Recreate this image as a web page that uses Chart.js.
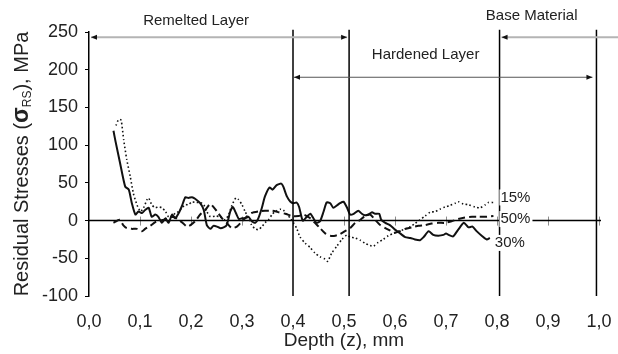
<!DOCTYPE html>
<html>
<head>
<meta charset="utf-8">
<script src="https://cdn.jsdelivr.net/npm/chart.js@4.4.1/dist/chart.umd.min.js"></script>
<style>
  html, body { margin: 0; padding: 0; background: #fff; }
  canvas { display: block; }
</style>
</head>
<body>
<canvas id="stressChart" width="618" height="354"></canvas>
<script>
// values: depth in mm, residual stress in MPa

// 15% curve (dotted)
const depth15 = [0.053, 0.058, 0.063, 0.068, 0.074, 0.081, 0.087, 0.094, 0.101, 0.107, 0.114, 0.117, 0.123, 0.130, 0.136, 0.143, 0.150, 0.156, 0.163, 0.169, 0.176, 0.182, 0.189, 0.195, 0.202, 0.208, 0.218, 0.225, 0.231, 0.238, 0.248, 0.257, 0.267, 0.274, 0.280, 0.288, 0.293, 0.300, 0.306, 0.313, 0.319, 0.326, 0.332, 0.339, 0.345, 0.352, 0.359, 0.365, 0.375, 0.381, 0.388, 0.395, 0.401, 0.407, 0.414, 0.424, 0.434, 0.443, 0.453, 0.463, 0.468, 0.476, 0.486, 0.496, 0.506, 0.512, 0.522, 0.532, 0.541, 0.551, 0.558, 0.567, 0.577, 0.587, 0.597, 0.607, 0.617, 0.630, 0.639, 0.649, 0.659, 0.669, 0.679, 0.688, 0.698, 0.708, 0.718, 0.724, 0.734, 0.744, 0.757, 0.767, 0.777, 0.783, 0.793];
const stress15 = [126, 134, 133, 107, 81, 58, 36, 21, 12, 17, 28, 30, 21, 17, 18, 17, 12, 5, 5, 10, 12, 17, 21, 21, 25, 24, 24, 21, 12, 5, 6, 5, 1, 8, 20, 30, 28, 21, 12, 3, -6, -11, -12, -8, -3, 1, 8, 12, 15, 14, 8, 3, -3, -10, -22, -30, -36, -43, -48, -51, -54, -43, -34, -25, -19, -22, -23, -26, -30, -33, -34, -29, -25, -20, -17, -14, -12, -8, -4, 1, 6, 11, 12, 15, 18, 20, 23, 25, 22, 21, 18, 17, 21, 24, 24];

// 50% curve (dashed)
const depth50 = [0.048, 0.060, 0.067, 0.074, 0.084, 0.094, 0.104, 0.110, 0.120, 0.130, 0.140, 0.150, 0.159, 0.169, 0.178, 0.185, 0.192, 0.199, 0.208, 0.218, 0.228, 0.238, 0.251, 0.261, 0.270, 0.280, 0.290, 0.300, 0.309, 0.319, 0.332, 0.345, 0.359, 0.372, 0.385, 0.398, 0.411, 0.421, 0.434, 0.443, 0.453, 0.463, 0.473, 0.483, 0.492, 0.502, 0.512, 0.522, 0.532, 0.541, 0.551, 0.561, 0.571, 0.581, 0.590, 0.600, 0.610, 0.620, 0.633, 0.646, 0.659, 0.672, 0.685, 0.698, 0.711, 0.724, 0.737, 0.751, 0.763, 0.777, 0.793];
const stress50 = [-3, 1, -6, -10, -11, -11, -14, -11, -7, -2, 0, 2, 5, 4, 0, -4, -8, -6, -1, 8, 14, 22, 12, 3, -3, -10, -8, -1, 5, 10, 12, 13, 13, 11, 9, 6, 6, 8, 3, -3, -10, -17, -20, -20, -18, -14, -10, -3, 1, 6, 8, 1, -6, -10, -13, -16, -14, -11, -9, -7, -6, -4, -3, -3, -1, 2, 4, 5, 5, 5, 6];

// 30% curve (solid)
const depth30 = [0.048, 0.052, 0.061, 0.071, 0.078, 0.084, 0.091, 0.097, 0.104, 0.110, 0.117, 0.123, 0.130, 0.136, 0.143, 0.150, 0.156, 0.163, 0.169, 0.176, 0.182, 0.189, 0.195, 0.202, 0.208, 0.218, 0.225, 0.231, 0.238, 0.244, 0.251, 0.257, 0.264, 0.270, 0.277, 0.282, 0.288, 0.294, 0.300, 0.306, 0.313, 0.319, 0.326, 0.332, 0.339, 0.345, 0.354, 0.360, 0.368, 0.377, 0.381, 0.388, 0.395, 0.401, 0.407, 0.412, 0.419, 0.427, 0.434, 0.440, 0.446, 0.453, 0.460, 0.466, 0.473, 0.479, 0.486, 0.492, 0.499, 0.506, 0.512, 0.519, 0.528, 0.535, 0.541, 0.548, 0.555, 0.561, 0.569, 0.573, 0.581, 0.590, 0.600, 0.610, 0.620, 0.630, 0.639, 0.649, 0.656, 0.666, 0.675, 0.685, 0.695, 0.700, 0.705, 0.714, 0.724, 0.735, 0.744, 0.752, 0.760, 0.770, 0.780, 0.786];
const stress30 = [119, 105, 76, 45, 41, 23, 8, 12, 10, 14, 17, 5, 8, 5, -3, 3, -3, 8, 3, 10, 19, 31, 30, 31, 29, 23, 14, -6, -11, -7, -8, -10, -9, -6, 12, 18, 10, 2, 3, 3, 5, -1, -3, 3, 17, 32, 44, 41, 47, 49, 45, 32, 25, 23, 24, 18, 0, 5, 9, 3, -3, -1, 12, 24, 23, 17, 20, 23, 25, 17, 8, 9, 13, 9, 7, 8, 11, 9, 9, 1, -3, -6, -12, -17, -22, -23, -25, -26, -22, -14, -19, -20, -19, -17, -19, -21, -12, -3, -9, -8, -14, -20, -25, -23];

const seriesNames = ["15%", "50%", "30%"];
const zoneNames = ["Remelted Layer", "Hardened Layer", "Base Material"];
const zoneBounds = [0.4, 0.51, 0.805, 0.995];
const yTickMin = -100;
const yTickMax = 250;

const FONT = "'Liberation Sans', Arial, Helvetica, sans-serif";

function toPoints(xs, ys) {
  return xs.map((x, i) => ({ x: x, y: ys[i] }));
}

function arrowHead(ctx, x, y, dir) {
  ctx.beginPath();
  ctx.moveTo(x, y);
  ctx.lineTo(x - dir * 6, y - 2.5);
  ctx.lineTo(x - dir * 6, y + 2.5);
  ctx.closePath();
  ctx.fill();
}

// zero line with its little tick marks
const zeroLine = {
  id: "zeroLine",
  beforeDatasetsDraw(chart) {
    const { ctx, scales } = chart;
    const xs = scales.x, ys = scales.y;
    const y0 = ys.getPixelForValue(0);
    ctx.save();
    ctx.strokeStyle = "#8c8c8c";
    ctx.lineWidth = 1;
    for (let i = 1; i <= 10; i++) {
      const px = Math.round(xs.getPixelForValue(i / 10)) + 0.5;
      ctx.beginPath();
      ctx.moveTo(px, y0 - 4);
      ctx.lineTo(px, y0 + 5);
      ctx.stroke();
    }
    ctx.strokeStyle = "#000";
    ctx.lineWidth = 1.5;
    ctx.beginPath();
    ctx.moveTo(xs.getPixelForValue(0), y0);
    ctx.lineTo(xs.getPixelForValue(1) + 2, y0);
    ctx.stroke();
    ctx.restore();
  }
};

// zone lines, arrows, captions, curve labels and the y title
const overlay = {
  id: "overlay",
  afterDatasetsDraw(chart) {
    const { ctx, scales, chartArea } = chart;
    const xs = scales.x, ys = scales.y;
    ctx.save();

    // zone boundaries
    ctx.strokeStyle = "#000";
    ctx.lineWidth = 1.5;
    zoneBounds.forEach(b => {
      const px = xs.getPixelForValue(b);
      ctx.beginPath();
      ctx.moveTo(px, ys.getPixelForValue(253));
      ctx.lineTo(px, chartArea.bottom);
      ctx.stroke();
    });

    // arrows
    ctx.fillStyle = "#111";
    const yTop = ys.getPixelForValue(243);
    const yMid = ys.getPixelForValue(190);
    let a = xs.getPixelForValue(0) + 2, b = xs.getPixelForValue(zoneBounds[1]) - 2;
    ctx.strokeStyle = "#b4b4b4";
    ctx.lineWidth = 2;
    ctx.beginPath(); ctx.moveTo(a, yTop); ctx.lineTo(b, yTop); ctx.stroke();
    arrowHead(ctx, a, yTop, -1);
    arrowHead(ctx, b, yTop, 1);

    a = xs.getPixelForValue(zoneBounds[0]) + 1;
    b = xs.getPixelForValue(zoneBounds[3]) - 4;
    ctx.strokeStyle = "#555";
    ctx.lineWidth = 1;
    ctx.beginPath(); ctx.moveTo(a, yMid); ctx.lineTo(b, yMid); ctx.stroke();
    arrowHead(ctx, a, yMid, -1);
    arrowHead(ctx, b, yMid, 1);

    a = xs.getPixelForValue(zoneBounds[2]) + 2;
    ctx.strokeStyle = "#b4b4b4";
    ctx.lineWidth = 2;
    ctx.beginPath(); ctx.moveTo(a, yTop); ctx.lineTo(chart.width, yTop); ctx.stroke();
    arrowHead(ctx, a, yTop, -1);

    // zone captions
    ctx.fillStyle = "#222";
    ctx.font = "15px " + FONT;
    ctx.textAlign = "center";
    ctx.textBaseline = "middle";
    ctx.fillText(zoneNames[0], xs.getPixelForValue(0.21), ys.getPixelForValue(265));
    ctx.fillText(zoneNames[1], xs.getPixelForValue(0.66), ys.getPixelForValue(220));
    ctx.fillText(zoneNames[2], xs.getPixelForValue(0.868), ys.getPixelForValue(272));

    // curve end labels
    const ends = [
      [depth15, stress15, 7, -5],
      [depth50, stress50, 7, 3],
      [depth30, stress30, 5, 5]
    ];
    ctx.textAlign = "left";
    seriesNames.forEach((name, i) => {
      const [dx, dy, ox, oy] = ends[i];
      const px = xs.getPixelForValue(dx[dx.length - 1]) + ox;
      const py = ys.getPixelForValue(dy[dy.length - 1]) + oy;
      const w = ctx.measureText(name).width;
      ctx.fillStyle = "#fff";
      ctx.fillRect(px - 1, py - 8, w + 3, 16);
      ctx.fillStyle = "#222";
      ctx.fillText(name, px, py);
    });

    // y axis title with sigma and subscript
    const parts = [
      { t: "Residual Stresses (", f: "20px " + FONT, dy: 0 },
      { t: "σ", f: "bold 23px " + FONT, dy: 0 },
      { t: "RS", f: "12px " + FONT, dy: 3 },
      { t: "), MPa", f: "20px " + FONT, dy: 0 }
    ];
    let total = 0;
    parts.forEach(p => { ctx.font = p.f; p.w = ctx.measureText(p.t).width; total += p.w; });
    ctx.translate(21, (chartArea.top + chartArea.bottom) / 2);
    ctx.rotate(-Math.PI / 2);
    ctx.textAlign = "left";
    ctx.textBaseline = "alphabetic";
    ctx.fillStyle = "#222";
    let cx = -total / 2;
    parts.forEach(p => {
      ctx.font = p.f;
      ctx.fillText(p.t, cx, 7 + p.dy);
      cx += p.w;
    });
    ctx.restore();
  }
};

const ctx = document.getElementById("stressChart").getContext("2d");
const stressChart = new Chart(ctx, {
  type: "line",
  data: {
    datasets: [
      {
        label: seriesNames[0],
        data: toPoints(depth15, stress15),
        borderColor: "#111",
        borderWidth: 1.6,
        borderDash: [1.5, 2.5],
        pointRadius: 0,
        fill: false,
        tension: 0.2,
      },
      {
        label: seriesNames[1],
        data: toPoints(depth50, stress50),
        borderColor: "#111",
        borderWidth: 2,
        borderDash: [7, 4],
        pointRadius: 0,
        fill: false,
        tension: 0.2,
      },
      {
        label: seriesNames[2],
        data: toPoints(depth30, stress30),
        borderColor: "#111",
        borderWidth: 2,
        pointRadius: 0,
        fill: false,
        tension: 0.2,
      },
    ],
  },
  options: {
    responsive: false,
    animation: false,
    layout: { padding: { left: 0, right: 19, top: 32, bottom: 0 } },
    plugins: {
      legend: { display: false },
      tooltip: { enabled: false },
    },
    scales: {
      x: {
        type: "linear",
        min: 0,
        max: 1,
        grid: { display: false, drawTicks: false },
        border: { display: false },
        ticks: {
          stepSize: 0.1,
          padding: 15,
          color: "#222",
          font: { family: FONT, size: 18 },
          maxRotation: 0,
          callback: v => v.toFixed(1).replace(".", ","),
        },
        title: {
          display: true,
          text: "Depth (z), mm",
          color: "#222",
          font: { family: FONT, size: 19 },
          padding: { top: 0, bottom: 2 },
        },
        afterFit(scale) {
          scale.height = 58;
          scale.paddingLeft = 0;
          scale.paddingRight = 0;
        },
      },
      y: {
        min: yTickMin,
        max: yTickMax,
        grid: { drawOnChartArea: false, drawTicks: true, tickLength: 4, color: "#000" },
        border: { display: true, color: "#000", width: 1.5 },
        ticks: {
          stepSize: 50,
          padding: 7,
          color: "#222",
          font: { family: FONT, size: 18 },
        },
        afterFit(scale) {
          scale.width = 89;
          scale.paddingTop = 0;
          scale.paddingBottom = 0;
        },
      },
    },
  },
  plugins: [zeroLine, overlay],
});
</script>
</body>
</html>
